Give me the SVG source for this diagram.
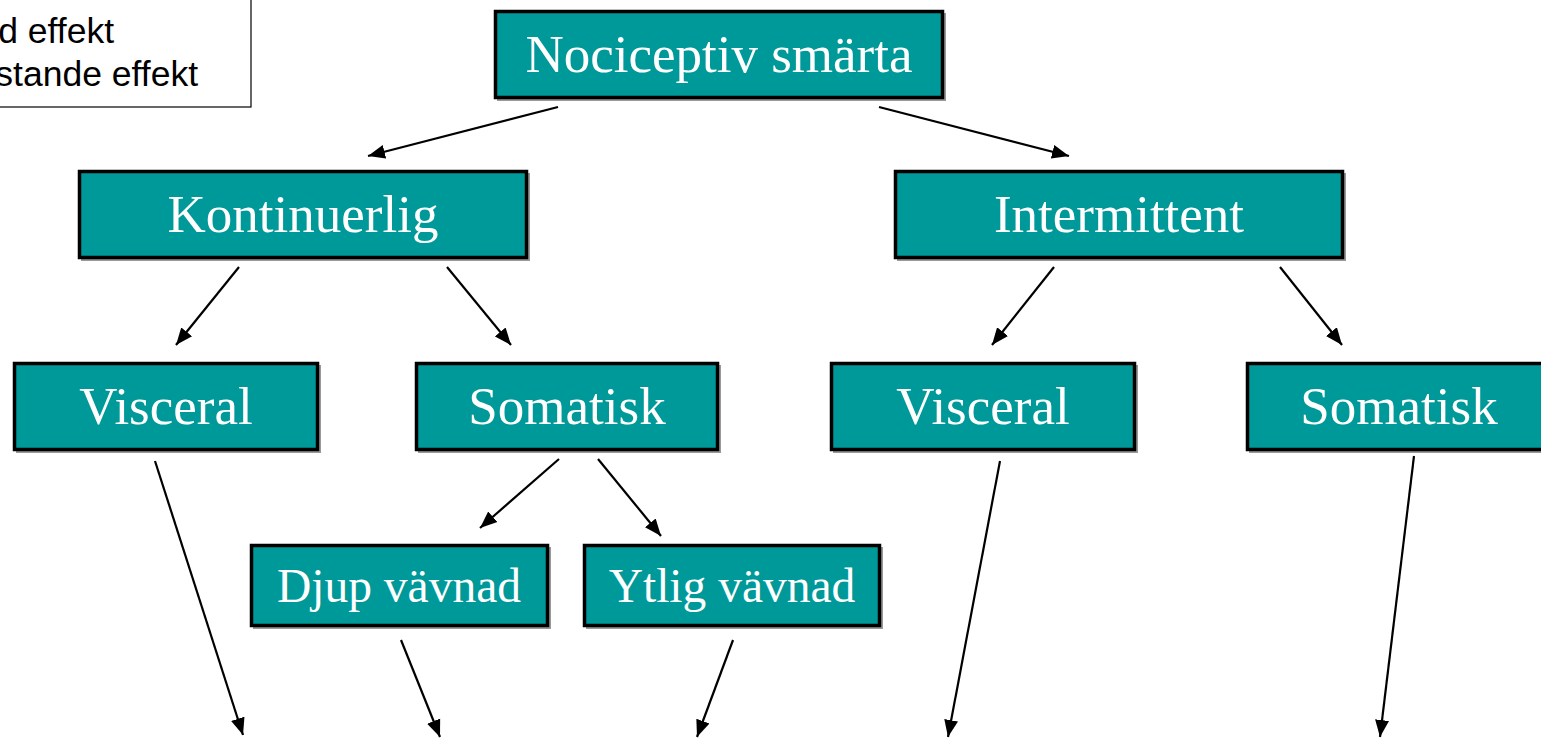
<svg xmlns="http://www.w3.org/2000/svg" width="1541" height="739" viewBox="0 0 1541 739">
<style>
.box{fill:#009999;stroke:#000;stroke-width:3.5}
.sh{fill:#999}
.t{font-family:"Liberation Serif","Times New Roman",serif;fill:#fff;text-anchor:middle}
.big{font-size:53px}
.mid{font-size:47.5px}
.leg{font-family:"Liberation Sans",Arial,sans-serif;font-size:35.5px;fill:#000;text-anchor:end}
.c{stroke:#000;stroke-width:2.2;fill:none;marker-end:url(#ah)}
</style>
<defs>
<marker id="ah" markerUnits="userSpaceOnUse" markerWidth="18" markerHeight="16" refX="17" refY="8" orient="auto">
<path d="M0,1 L17,8 L0,15 z" fill="#000"/>
</marker>
</defs>
<rect width="1541" height="739" fill="#fff"/>
<g id="legend">
<rect x="-10" y="-10" width="261" height="117" fill="#fff" stroke="#000" stroke-width="1.2"/>
<text class="leg" x="114" y="43">d effekt</text>
<text class="leg" x="198" y="86">stande effekt</text>
</g>
<g id="connectors">
<line class="c" x1="558" y1="107" x2="368" y2="156"/>
<line class="c" x1="879" y1="107" x2="1069" y2="156"/>
<line class="c" x1="239" y1="267" x2="176" y2="345"/>
<line class="c" x1="447" y1="267" x2="511" y2="345"/>
<line class="c" x1="1054" y1="267" x2="992" y2="345"/>
<line class="c" x1="1280" y1="267" x2="1342" y2="345"/>
<line class="c" x1="559" y1="459" x2="480" y2="528"/>
<line class="c" x1="598" y1="459" x2="661" y2="536"/>
<line class="c" x1="155" y1="461" x2="243" y2="735"/>
<line class="c" x1="401" y1="640" x2="440" y2="737"/>
<line class="c" x1="733" y1="640" x2="697" y2="737"/>
<line class="c" x1="1000" y1="461" x2="948" y2="737"/>
<line class="c" x1="1414" y1="456" x2="1380" y2="737"/>
</g>
<g id="n-nociceptiv">
<rect class="sh" x="497" y="13" width="449" height="88"/>
<rect class="box" x="495.5" y="11.5" width="447" height="86"/>
<text class="t big" x="719" y="72">Nociceptiv smärta</text>
</g>
<g id="n-kontinuerlig">
<rect class="sh" x="81" y="173" width="449" height="88"/>
<rect class="box" x="79.5" y="171.5" width="447" height="86"/>
<text class="t big" x="303" y="232">Kontinuerlig</text>
</g>
<g id="n-intermittent">
<rect class="sh" x="897" y="173" width="449" height="88"/>
<rect class="box" x="895.5" y="171.5" width="447" height="86"/>
<text class="t big" x="1119" y="232">Intermittent</text>
</g>
<g id="n-visceral1">
<rect class="sh" x="16" y="365" width="305" height="88"/>
<rect class="box" x="14.5" y="363.5" width="303" height="86"/>
<text class="t big" x="166" y="424">Visceral</text>
</g>
<g id="n-somatisk1">
<rect class="sh" x="418" y="365" width="303" height="88"/>
<rect class="box" x="416.5" y="363.5" width="301" height="86"/>
<text class="t big" x="567" y="424">Somatisk</text>
</g>
<g id="n-visceral2">
<rect class="sh" x="833" y="365" width="305" height="88"/>
<rect class="box" x="831.5" y="363.5" width="303" height="86"/>
<text class="t big" x="983" y="424">Visceral</text>
</g>
<g id="n-somatisk2">
<rect class="sh" x="1249" y="365" width="305" height="88"/>
<rect class="box" x="1247.5" y="363.5" width="303" height="86"/>
<text class="t big" x="1399" y="424">Somatisk</text>
</g>
<g id="n-djup">
<rect class="sh" x="253" y="547" width="298" height="82"/>
<rect class="box" x="251.5" y="545.5" width="296" height="80"/>
<text class="t mid" x="399" y="602">Djup vävnad</text>
</g>
<g id="n-ytlig">
<rect class="sh" x="586" y="547" width="297" height="82"/>
<rect class="box" x="584.5" y="545.5" width="295" height="80"/>
<text class="t mid" x="732" y="602">Ytlig vävnad</text>
</g>
</svg>
